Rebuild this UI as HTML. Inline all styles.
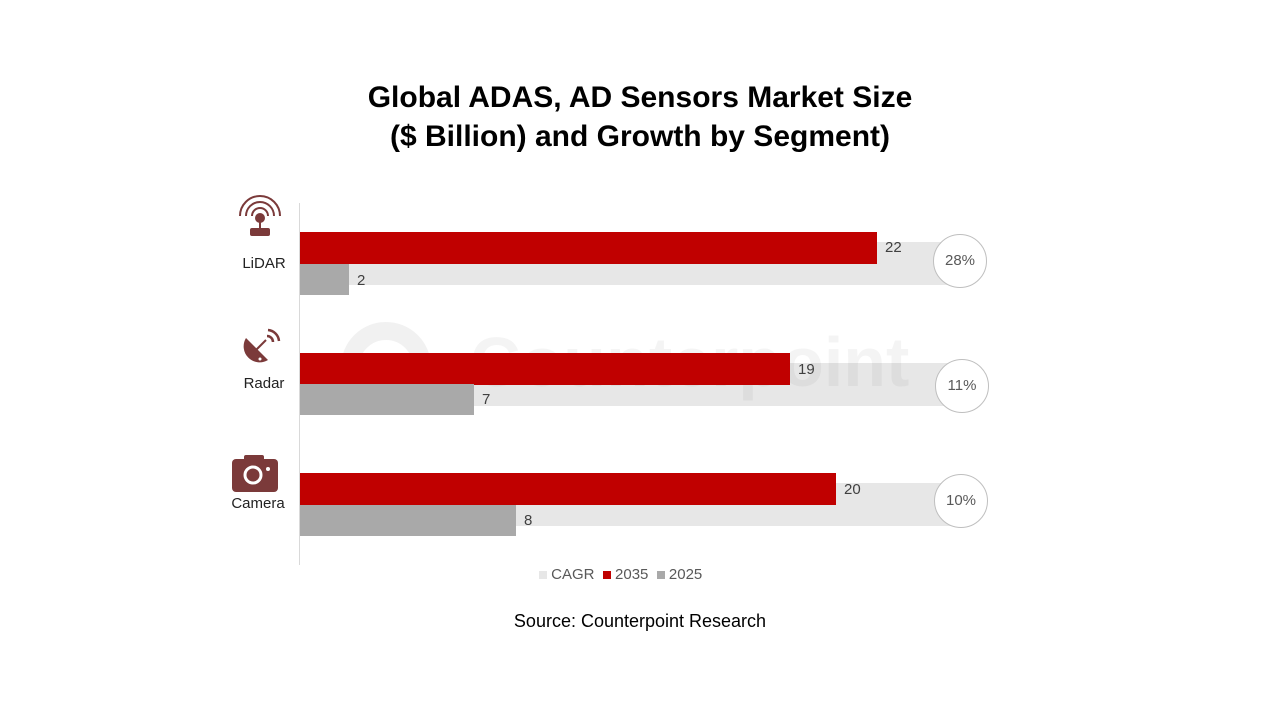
<!DOCTYPE html>
<html><head><style>
body{margin:0;width:1280px;height:720px;background:#fff;font-family:"Liberation Sans",sans-serif;position:relative;overflow:hidden}
.a{position:absolute}
.t{left:0;width:1280px;text-align:center;font-weight:bold;font-size:30px;color:#000}
.r{background:#c00000;height:32px;left:300px}
.g{background:#a9a9a9;height:31px;left:300px}
.c{background:#e7e7e7;height:43px;left:300px;width:660px}
.v{font-size:15px;color:#404040}
.o{width:52px;height:52px;border:1px solid #bfbfbf;border-radius:50%;background:#fff;text-align:center;line-height:52px;font-size:15px;color:#595959}
.l{font-size:15px;color:#222;width:100px;text-align:center}
</style></head><body>
<div class="a t" style="top:81px">Global ADAS, AD Sensors Market Size</div>
<div class="a t" style="top:120px">($ Billion) and Growth by Segment)</div>
<div class="a" style="left:299px;top:203px;width:1px;height:362px;background:#d9d9d9"></div>

<div class="a c" style="top:242px"></div>
<div class="a c" style="top:363px"></div>
<div class="a c" style="top:483px"></div>
<svg class="a" style="left:340px;top:315px" width="100" height="100"><circle cx="46" cy="52" r="36" fill="none" stroke="rgba(120,120,120,0.1)" stroke-width="18"/></svg>
<div class="a" style="left:470px;top:322px;font-size:70px;font-weight:bold;color:rgba(120,120,120,0.08)">Counterpoint</div>

<div class="a r" style="top:232px;width:577px"></div>
<div class="a g" style="top:264px;width:49px"></div>
<div class="a r" style="top:353px;width:490px"></div>
<div class="a g" style="top:384px;width:174px"></div>
<div class="a r" style="top:473px;width:536px"></div>
<div class="a g" style="top:505px;width:216px"></div>

<div class="a v" style="left:885px;top:239px">22</div>
<div class="a v" style="left:357px;top:272px">2</div>
<div class="a v" style="left:798px;top:361px">19</div>
<div class="a v" style="left:482px;top:391px">7</div>
<div class="a v" style="left:844px;top:481px">20</div>
<div class="a v" style="left:524px;top:512px">8</div>

<div class="a o" style="left:933px;top:234px">28%</div>
<div class="a o" style="left:935px;top:359px">11%</div>
<div class="a o" style="left:934px;top:474px">10%</div>

<svg class="a" style="left:234px;top:194px" width="52" height="46" viewBox="0 0 52 46">
<g fill="none" stroke="#7b3a3a" stroke-width="2"><path d="M6 22a20 20 0 0 1 40 0"/><path d="M12 22a14 14 0 0 1 28 0"/><path d="M18 22a8 8 0 0 1 16 0"/></g>
<circle cx="26" cy="24" r="5" fill="#7b3a3a"/><rect x="25" y="26" width="2" height="8" fill="#7b3a3a"/><rect x="16" y="34" width="20" height="8" rx="2" fill="#7b3a3a"/></svg>
<div class="a l" style="left:214px;top:255px">LiDAR</div>
<svg class="a" style="left:240px;top:328px" width="42" height="40" viewBox="0 0 42 40">
<path d="M6 10 L28 32 A16 16 0 0 1 6 10Z" fill="#7b3a3a"/><path d="M16 22 L26 12" stroke="#7b3a3a" stroke-width="2"/>
<g fill="none" stroke="#7b3a3a" stroke-width="2.5"><path d="M27 8a6 6 0 0 1 6 6"/><path d="M28 2a12 12 0 0 1 11 11"/></g><circle cx="20" cy="31" r="1.5" fill="#fff"/></svg>
<div class="a l" style="left:214px;top:375px">Radar</div>
<svg class="a" style="left:231px;top:454px" width="48" height="38" viewBox="0 0 48 38">
<rect x="1" y="5" width="46" height="33" rx="4" fill="#7b3a3a"/><rect x="13" y="1" width="20" height="8" rx="2" fill="#7b3a3a"/>
<circle cx="22" cy="21" r="8" fill="none" stroke="#fff" stroke-width="3"/><circle cx="37" cy="15" r="2" fill="#fff"/></svg>
<div class="a l" style="left:208px;top:495px">Camera</div>

<div class="a" style="left:539px;top:566px;font-size:15px;color:#595959;white-space:nowrap">
<span style="display:inline-block;width:8px;height:8px;background:#e7e7e7"></span> CAGR&nbsp;
<span style="display:inline-block;width:8px;height:8px;background:#c00000"></span> 2035&nbsp;
<span style="display:inline-block;width:8px;height:8px;background:#a9a9a9"></span> 2025</div>
<div class="a" style="left:0;width:1280px;text-align:center;top:611px;font-size:18px;color:#000">Source: Counterpoint Research</div>
</body></html>
